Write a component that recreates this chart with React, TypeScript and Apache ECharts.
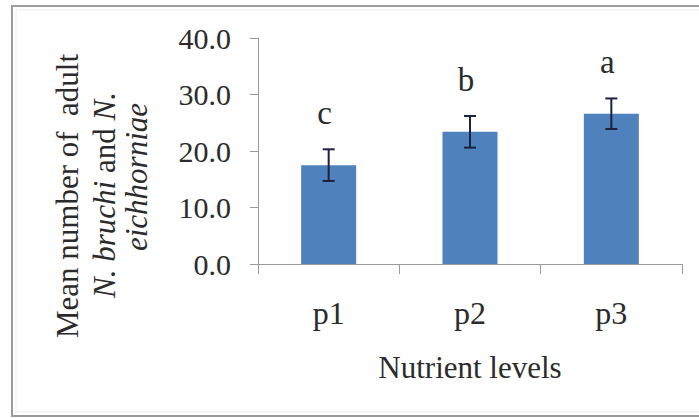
import React, { useEffect, useRef } from "react";
import * as echarts from "echarts";

// Mean number of adult weevils per nutrient level, with error bars and
// significance-group letters.
const categories = ["p1", "p2", "p3"];
const meanAdults = [17.5, 23.4, 26.6];
const errorHalf = [2.8, 2.8, 2.7];
const groupLetters = ["c", "b", "a"];
const yTicks = [0, 10, 20, 30, 40];

const SERIF = "Liberation Serif, Times New Roman, serif";
const BAR_BLUE = "#4f81bd";
const INK = "#2b2b2b";
const AXIS_GREY = "#9a9a9a";

export default function App() {
  const ref = useRef<HTMLDivElement>(null);

  useEffect(() => {
    if (!ref.current) return;
    const chart = echarts.init(ref.current, undefined, { renderer: "svg" });

    const renderError = (params: any, api: any) => {
      const i = api.value(0);
      const m = api.value(1);
      const e = api.value(2);
      const top = api.coord([i, m + e]);
      const bot = api.coord([i, m - e]);
      const half = 6;
      const style = { stroke: "#1b2240", lineWidth: 2 };
      return {
        type: "group",
        children: [
          { type: "line", shape: { x1: top[0], y1: top[1], x2: bot[0], y2: bot[1] }, style },
          { type: "line", shape: { x1: top[0] - half, y1: top[1], x2: top[0] + half, y2: top[1] }, style },
          { type: "line", shape: { x1: bot[0] - half, y1: bot[1], x2: bot[0] + half, y2: bot[1] }, style },
          {
            type: "text",
            x: top[0] - 4,
            y: top[1] - 36,
            style: {
              text: groupLetters[params.dataIndex],
              fontFamily: SERIF,
              fontSize: 33,
              fill: INK,
              align: "center",
              verticalAlign: "middle",
            },
          },
        ],
      };
    };

    const titleFont = { fontFamily: SERIF, fontSize: 31, fill: INK };

    chart.setOption({
      animation: false,
      backgroundColor: "#ffffff",
      grid: { left: 258, right: 17, top: 38, bottom: 154 },
      xAxis: {
        type: "category",
        data: categories,
        axisLine: { lineStyle: { color: AXIS_GREY, width: 1 } },
        axisTick: { show: true, length: 10, lineStyle: { color: AXIS_GREY } },
        axisLabel: { margin: 33, fontFamily: SERIF, fontSize: 32, color: INK },
        name: "Nutrient levels",
        nameLocation: "middle",
        nameGap: 88,
        nameTextStyle: { fontFamily: SERIF, fontSize: 31, color: INK },
      },
      yAxis: {
        type: "value",
        min: yTicks[0],
        max: yTicks[yTicks.length - 1],
        interval: yTicks[1] - yTicks[0],
        axisLine: { show: true, lineStyle: { color: AXIS_GREY, width: 1 } },
        axisTick: { show: true, length: 8, lineStyle: { color: AXIS_GREY } },
        splitLine: { show: false },
        axisLabel: {
          margin: 27,
          fontFamily: SERIF,
          fontSize: 30,
          color: INK,
          formatter: (v: number) => v.toFixed(1),
        },
      },
      series: [
        {
          type: "bar",
          data: meanAdults,
          barWidth: 55,
          itemStyle: { color: BAR_BLUE },
        },
        {
          type: "custom",
          data: meanAdults.map((m, i) => [i, m, errorHalf[i]]),
          renderItem: renderError,
          z: 5,
        },
      ],
      graphic: [
        {
          type: "rect",
          shape: { x: 12, y: 6, width: 700, height: 410 },
          style: { fill: "none", stroke: "#9c9c9c", lineWidth: 2 },
          silent: true,
        },
        {
          type: "rect",
          shape: { x: 16, y: 10, width: 700, height: 402 },
          style: { fill: "none", stroke: "#ededed", lineWidth: 1 },
          silent: true,
        },
        {
          type: "text",
          x: 67,
          y: 196,
          rotation: Math.PI / 2,
          style: { ...titleFont, text: "Mean number of  adult", align: "center", verticalAlign: "middle" },
        },
        {
          type: "text",
          x: 104,
          y: 195,
          rotation: Math.PI / 2,
          style: {
            text: "{i|N. bruchi}{r| and }{i|N.}",
            align: "center",
            verticalAlign: "middle",
            rich: {
              i: { ...titleFont, fontStyle: "italic" },
              r: { ...titleFont },
            },
          },
        },
        {
          type: "text",
          x: 136,
          y: 177,
          rotation: Math.PI / 2,
          style: { ...titleFont, fontStyle: "italic", text: "eichhorniae", align: "center", verticalAlign: "middle" },
        },
      ],
    });

    return () => chart.dispose();
  }, []);

  return (
    <div
      ref={ref}
      style={{ position: "fixed", left: 0, top: 0, width: 699, height: 418, background: "#fff" }}
    />
  );
}
